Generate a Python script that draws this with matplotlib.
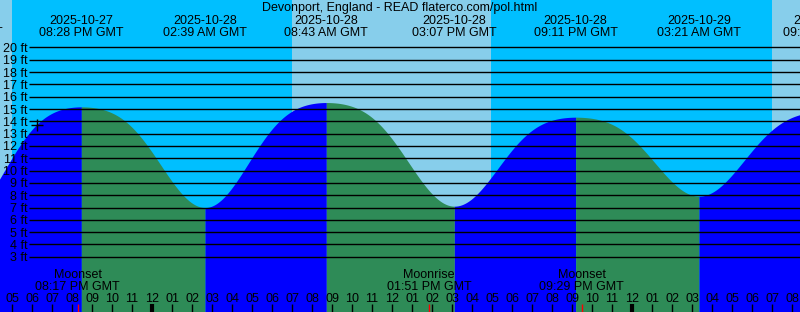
import numpy as np
import pandas as pd
import matplotlib
matplotlib.use("Agg")
import matplotlib.pyplot as plt

plt.rcParams['font.family'] = ['Liberation Sans', 'DejaVu Sans']

# ---------------- data ----------------
title = "Devonport, England - READ flaterco.com/pol.html"
# tide extremes (first and last are just outside the visible window)
extreme_times = ["2025-10-27 14:25", "2025-10-27 20:28", "2025-10-28 02:39",
                 "2025-10-28 08:43", "2025-10-28 15:07", "2025-10-28 21:11",
                 "2025-10-29 03:21", "2025-10-29 09:40"]
extreme_heights = [6.0, 15.18, 7.0, 15.53, 7.11, 14.34, 7.92, 14.8]
extreme_labels = ["02:25 PM GMT", "08:28 PM GMT", "02:39 AM GMT", "08:43 AM GMT",
                  "03:07 PM GMT", "09:11 PM GMT", "03:21 AM GMT", "09:40 AM GMT"]
extreme_dates = ["2025-10-27", "2025-10-27", "2025-10-28", "2025-10-28",
                 "2025-10-28", "2025-10-28", "2025-10-29", "2025-10-29"]
# flattening of high water (shallow-water overtide share)
hw_flat = 0.17

# day/night boundaries (sunset, sunrise, sunset, sunrise)
sun_events = ["2025-10-27 16:59", "2025-10-28 06:59", "2025-10-28 16:56", "2025-10-29 06:59"]

moon_names = ["Moonset", "Moonrise", "Moonset"]
moon_times = ["2025-10-27 20:17", "2025-10-28 13:51", "2025-10-28 21:29"]
moon_labels = ["08:17 PM GMT", "01:51 PM GMT", "09:29 PM GMT"]

now_time = "2025-10-27 18:14"

ft_levels = list(range(3, 21))
hour_start = "2025-10-27 16:00"
hour_count = 42

# ---------------- helpers ----------------
T0 = pd.Timestamp("2025-10-27 00:00")
def hrs(s):
    return (pd.Timestamp(s) - T0) / pd.Timedelta(hours=1)

W, H = 800, 312
X0 = 12.0          # pixel of 17:00 Oct 27
PXH = 20.0         # pixels per hour
Y20 = 47.5         # pixel of 20 ft line
PXF = 12.31        # pixels per foot

xlim = (17 - X0 / PXH, 17 + (W - X0) / PXH)
ylim = (20 - (H - Y20) / PXF, 20 + Y20 / PXF)

def fy(pix):  # pixel from top -> axes fraction
    return 1 - pix / H

ext_t = np.array([hrs(s) for s in extreme_times])
ext_h = np.array(extreme_heights)

def segment(i, tt):
    t0, t1 = ext_t[i], ext_t[i + 1]
    h0, h1 = ext_h[i], ext_h[i + 1]
    hi, lo = max(h0, h1), min(h0, h1)
    if h1 > h0:   # rising: high at t1
        phi = np.pi * (t1 - tt) / (t1 - t0)
    else:         # falling: high at t0
        phi = np.pi * (tt - t0) / (t1 - t0)
    return hi - (hi - lo) / 2 * ((1 - np.cos(phi)) - hw_flat * (1 - np.cos(2 * phi)))

fig = plt.figure(figsize=(W / 100, H / 100), dpi=100)
ax = fig.add_axes([0, 0, 1, 1])
ax.set_xlim(*xlim)
ax.set_ylim(*ylim)
ax.axis('off')

NIGHT = '#00BFFF'
DAY = '#87CEEB'
ax.axvspan(xlim[0], xlim[1], color=NIGHT, zorder=0, lw=0)
sun_t = [xlim[0]] + [hrs(s) for s in sun_events] + [xlim[1]]
for i in range(len(sun_t) - 1):
    if i % 2 == 0:
        ax.axvspan(sun_t[i], sun_t[i + 1], color=DAY, zorder=0.5, lw=0)

for i in range(len(ext_t) - 1):
    tt = np.linspace(ext_t[i], ext_t[i + 1], 300)
    hh = segment(i, tt)
    col = '#0000FF' if ext_h[i + 1] > ext_h[i] else '#2E8B57'
    ax.fill_between(tt, ylim[0] - 1, hh, color=col, lw=0, zorder=1)

# now marker
tn = hrs(now_time)
k = int(np.searchsorted(ext_t, tn) - 1)
hn = float(segment(k, np.array([tn]))[0])
ax.plot([tn], [hn], marker='+', ms=8, mew=1, color='black', zorder=4)

# horizontal level lines and labels
x_line_start = xlim[0] + 29 / PXH
for lv in ft_levels:
    ax.plot([x_line_start, xlim[1]], [lv, lv], color='black', lw=1, zorder=3,
            solid_capstyle='butt')
    ax.text(xlim[0] + 27.5 / PXH, lv, f"{lv} ft", ha='right', va='center_baseline',
            fontsize=9, color='black', zorder=5)

# hour ticks and labels
tick_h = 8
ts0 = hrs(hour_start)
for j in range(hour_count):
    th = ts0 + j
    if th < xlim[0] or th > xlim[1]:
        continue
    hr = int(round(th)) % 24
    lab = f"{(hr % 12) or 12:02d}"
    mid = (hr == 0)
    ax.plot([th, th], [ylim[0], ylim[0] + tick_h / PXF], color='black',
            lw=3 if mid else 1, zorder=5, solid_capstyle='butt')
    ax.text(th, ylim[0] + (H - 301.7) / PXF, lab, ha='center', va='baseline',
            fontsize=9, color='black', zorder=5)

# moon events
for name, ts, lab in zip(moon_names, moon_times, moon_labels):
    tm = hrs(ts)
    ax.plot([tm, tm], [ylim[0], ylim[0] + tick_h / PXF], color='red', lw=1, zorder=6,
            solid_capstyle='butt')
    ax.text(tm, fy(278.3), name, transform=ax.get_xaxis_transform(), ha='center',
            va='baseline', fontsize=9, color='black', zorder=6)
    ax.text(tm, fy(290), lab, transform=ax.get_xaxis_transform(), ha='center',
            va='baseline', fontsize=9, color='black', zorder=6)

# extreme labels on top
for t, d, lab in zip(ext_t, extreme_dates, extreme_labels):
    ax.text(t, fy(23.5), d, transform=ax.get_xaxis_transform(), ha='center',
            va='baseline', fontsize=9, color='black', zorder=6, clip_on=False)
    ax.text(t, fy(35.5), lab, transform=ax.get_xaxis_transform(), ha='center',
            va='baseline', fontsize=9, color='black', zorder=6, clip_on=False)

fig.text(0.5, fy(11.5), title, ha='center', va='baseline', fontsize=9, color='black')

fig.savefig("out.png", dpi=100)
